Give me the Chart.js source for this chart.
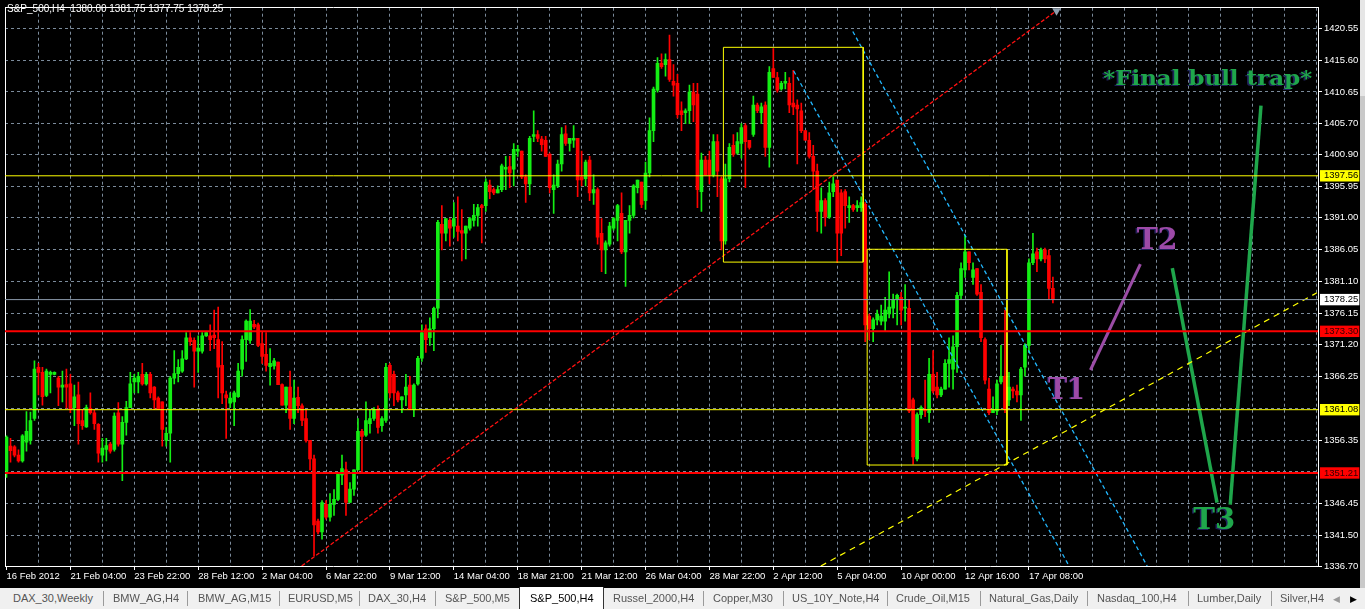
<!DOCTYPE html>
<html><head><meta charset="utf-8">
<script src="https://cdn.jsdelivr.net/npm/chart.js@4.4.1/dist/chart.umd.min.js"></script>
<style>
html,body{margin:0;padding:0;background:#000;width:1365px;height:609px;overflow:hidden;}
#wrap{position:absolute;left:0;top:0;width:1360px;height:588px;background:#000;}
#strip{position:absolute;left:1360px;top:0;width:5px;height:588px;background:#c9c9c9;}
#strip div{height:96px;background:#e6e6e6;}
#tabs{position:absolute;left:0;top:588px;width:1365px;height:21px;background:#f0f0f0;font:11px "Liberation Sans",Arial,sans-serif;color:#555;}
.tab{position:absolute;top:4px;white-space:nowrap;line-height:13px;}
.sep{position:absolute;top:3px;width:1px;height:15px;background:#9a9a9a;}
.act{position:absolute;left:519px;top:-1px;width:83px;height:22px;background:#fff;border-left:1px solid #333;border-right:1px solid #333;}
</style></head>
<body>
<div id="wrap"><canvas id="c" width="1360" height="588"></canvas></div>
<div id="strip"><div></div></div>
<div id="tabs">
<div class="act"></div>
<span class="tab" style="left:13px">DAX_30,Weekly</span><div class="sep" style="left:103px"></div>
<span class="tab" style="left:113px">BMW_AG,H4</span><div class="sep" style="left:187px"></div>
<span class="tab" style="left:198px">BMW_AG,M15</span><div class="sep" style="left:279px"></div>
<span class="tab" style="left:288px">EURUSD,M5</span><div class="sep" style="left:359px"></div>
<span class="tab" style="left:368px">DAX_30,H4</span><div class="sep" style="left:435px"></div>
<span class="tab" style="left:445px">S&amp;P_500,M5</span>
<span class="tab" style="left:530px;color:#000">S&amp;P_500,H4</span>
<span class="tab" style="left:613px">Russel_2000,H4</span><div class="sep" style="left:703px"></div>
<span class="tab" style="left:713px">Copper,M30</span><div class="sep" style="left:783px"></div>
<span class="tab" style="left:792px">US_10Y_Note,H4</span><div class="sep" style="left:887px"></div>
<span class="tab" style="left:896px">Crude_Oil,M15</span><div class="sep" style="left:980px"></div>
<span class="tab" style="left:989px">Natural_Gas,Daily</span><div class="sep" style="left:1087px"></div>
<span class="tab" style="left:1097px">Nasdaq_100,H4</span><div class="sep" style="left:1188px"></div>
<span class="tab" style="left:1197px">Lumber,Daily</span><div class="sep" style="left:1271px"></div>
<span class="tab" style="left:1280px">Silver,H4</span>
<span class="tab" style="left:1333px;color:#999;font-size:9px;top:5px">&#9664;</span>
<span class="tab" style="left:1350px;color:#000;font-size:9px;top:5px">&#9654;</span>
</div>
<script>
// ---- data (H4 candles) ----
const opens = [
1351.5,1355.4,1355.3,1354.0,1353.1,1356.0,1356.3,1359.7,1367.7,1366.9,
1363.3,1366.6,1366.6,1366.0,1364.6,1365.0,1365.1,1361.4,1363.4,1359.4,
1358.4,1361.3,1360.6,1358.8,1354.0,1354.9,1355.7,1354.9,1360.6,1355.7,
1359.1,1361.4,1365.4,1365.4,1366.6,1365.1,1366.6,1364.6,1362.9,1362.3,
1356.3,1357.4,1366.0,1366.7,1367.1,1369.0,1372.3,1371.9,1370.2,1370.2,
1372.6,1372.6,1372.7,1372.0,1368.0,1363.4,1362.1,1362.3,1363.1,1367.4,
1372.0,1371.9,1374.4,1374.3,1371.4,1369.7,1367.8,1367.9,1368.5,1365.0,
1361.8,1364.6,1359.7,1363.0,1361.7,1359.7,1356.3,1353.4,1343.7,1342.0,
1346.3,1344.3,1346.3,1347.1,1350.9,1351.7,1346.6,1348.7,1351.7,1357.7,
1357.1,1358.9,1359.7,1361.1,1358.6,1359.4,1368.0,1366.6,1363.7,1362.6,
1363.4,1364.9,1361.1,1365.1,1369.1,1373.7,1372.3,1373.7,1376.9,1390.0,
1388.6,1390.6,1389.7,1389.7,1389.0,1388.6,1389.4,1390.6,1391.4,1392.9,
1392.9,1396.1,1395.4,1394.9,1395.4,1398.6,1399.0,1398.6,1401.4,1401.4,
1397.4,1396.3,1403.7,1404.0,1403.3,1403.1,1400.9,1395.4,1396.0,1399.4,
1404.1,1402.6,1403.1,1403.4,1397.4,1397.1,1400.0,1394.9,1395.4,1388.6,
1386.0,1386.9,1389.4,1390.6,1391.7,1385.7,1390.6,1391.4,1395.7,1396.6,
1393.7,1398.0,1404.6,1410.9,1415.1,1414.9,1415.7,1412.3,1412.0,1407.7,
1407.4,1407.7,1410.6,1410.3,1395.1,1400.0,1400.0,1397.7,1402.9,1397.1,
1387.4,1397.1,1402.3,1401.1,1402.6,1405.4,1403.1,1404.0,1408.6,1407.4,
1408.6,1402.0,1414.3,1412.9,1411.1,1412.0,1412.0,1408.9,1408.6,1407.7,
1404.6,1403.1,1400.6,1398.3,1392.0,1393.7,1391.1,1395.1,1396.9,1394.9,
1395.1,1392.6,1392.9,1392.6,1392.6,1393.1,1375.7,1373.7,1375.1,1374.9,
1374.9,1376.0,1376.9,1378.3,1378.6,1376.9,1376.9,1362.6,1353.4,1360.3,
1361.1,1360.6,1366.6,1364.6,1363.4,1364.3,1368.3,1367.4,1370.9,1378.9,
1382.9,1385.7,1381.7,1383.1,1379.4,1372.0,1364.3,1360.6,1360.9,1365.4,
1366.3,1362.6,1364.3,1364.0,1363.4,1367.7,1371.1,1384.0,1385.7,1384.6,
1386.0,1385.1,1380.00];
const highs = [
1357.0,1356.6,1355.5,1354.8,1357.2,1360.8,1360.7,1368.7,1368.3,1367.7,
1367.4,1367.1,1367.0,1366.3,1367.1,1367.4,1366.6,1364.9,1365.4,1361.1,
1361.8,1363.7,1361.0,1358.9,1356.6,1356.6,1356.0,1360.6,1362.2,1360.0,
1362.4,1366.9,1366.6,1366.9,1368.3,1366.9,1366.9,1364.7,1363.1,1362.3,
1358.3,1366.3,1370.3,1368.9,1370.3,1373.1,1373.1,1372.3,1372.6,1373.1,
1373.1,1374.3,1376.6,1377.1,1371.7,1364.0,1363.7,1364.0,1368.3,1372.6,
1375.1,1376.7,1375.0,1374.6,1373.1,1373.1,1370.6,1369.1,1368.5,1365.1,
1364.6,1367.1,1365.7,1364.6,1362.0,1361.1,1356.3,1354.0,1344.0,1346.9,
1346.9,1348.0,1348.6,1351.3,1354.0,1352.9,1349.7,1351.7,1359.7,1358.0,
1362.3,1361.1,1361.4,1361.7,1360.0,1368.3,1368.3,1367.1,1364.0,1363.1,
1366.6,1366.3,1365.1,1369.4,1374.3,1374.3,1375.4,1377.1,1390.6,1392.9,
1390.9,1390.9,1393.4,1394.3,1392.3,1389.7,1391.1,1393.1,1393.1,1393.1,
1397.1,1396.9,1395.7,1396.0,1399.4,1400.6,1400.6,1402.6,1402.3,1401.4,
1397.7,1403.7,1407.7,1404.6,1403.7,1403.7,1401.1,1397.7,1400.0,1405.1,
1405.4,1403.4,1405.4,1403.4,1401.4,1400.0,1400.6,1397.7,1395.7,1390.9,
1387.4,1390.3,1391.1,1393.1,1394.9,1390.6,1392.9,1396.2,1396.9,1396.6,
1399.7,1406.6,1411.4,1416.0,1416.6,1416.6,1419.5,1414.9,1413.4,1409.1,
1408.0,1411.7,1412.0,1412.0,1401.1,1400.6,1401.4,1404.0,1404.0,1397.4,
1399.4,1402.6,1404.0,1404.3,1405.7,1405.7,1403.1,1410.0,1408.9,1408.9,
1409.1,1414.6,1417.4,1413.7,1412.3,1413.7,1412.9,1414.0,1409.4,1408.9,
1404.6,1404.3,1402.3,1399.4,1395.7,1394.0,1396.6,1397.4,1396.9,1395.4,
1395.4,1394.3,1393.1,1393.7,1394.3,1393.4,1376.0,1375.4,1376.6,1377.4,
1378.6,1382.6,1379.1,1379.1,1379.4,1380.6,1378.3,1362.9,1360.6,1361.7,
1365.7,1369.1,1370.3,1366.9,1364.6,1368.9,1372.3,1372.6,1379.4,1384.0,
1388.3,1385.7,1384.0,1383.1,1380.6,1372.3,1366.0,1363.1,1365.7,1371.1,
1376.6,1366.9,1364.6,1364.9,1367.7,1371.4,1384.6,1388.6,1386.3,1386.3,
1386.3,1386.0,1381.75];
const lows = [
1350.5,1352.9,1353.7,1352.9,1352.9,1354.6,1355.7,1359.4,1363.4,1361.8,
1363.1,1363.7,1366.5,1361.7,1362.3,1361.3,1360.6,1358.6,1355.7,1358.0,
1358.3,1360.4,1358.0,1352.9,1352.9,1353.1,1354.3,1354.6,1355.4,1350.0,
1357.1,1361.4,1363.7,1363.7,1364.9,1364.9,1362.9,1361.1,1361.1,1355.4,
1355.4,1352.9,1365.1,1365.4,1366.9,1368.9,1371.1,1364.6,1366.9,1369.9,
1372.5,1370.3,1370.6,1362.9,1362.0,1356.6,1361.4,1358.6,1363.0,1366.3,
1368.6,1371.4,1373.7,1370.9,1368.3,1367.1,1364.9,1367.4,1365.0,1361.8,
1360.6,1358.0,1358.9,1360.6,1358.6,1356.0,1351.7,1338.3,1341.7,1340.9,
1344.0,1343.7,1344.6,1346.9,1349.4,1344.6,1346.6,1347.7,1351.7,1351.1,
1356.9,1357.4,1359.4,1357.4,1357.7,1359.1,1362.9,1361.7,1362.3,1360.6,
1361.7,1361.1,1360.0,1364.9,1368.6,1370.0,1371.1,1370.3,1375.4,1386.0,
1387.4,1386.6,1388.0,1387.4,1384.3,1384.6,1389.1,1389.7,1389.7,1387.1,
1392.0,1394.0,1394.6,1394.9,1395.1,1395.4,1395.7,1396.0,1400.6,1397.1,
1393.4,1394.6,1402.9,1402.9,1401.4,1400.6,1394.9,1391.7,1395.7,1398.3,
1402.3,1401.4,1402.0,1394.3,1396.0,1396.0,1393.7,1393.1,1386.9,1382.6,
1382.3,1386.6,1389.1,1387.4,1385.4,1380.3,1388.6,1391.0,1394.9,1392.6,
1392.3,1397.4,1402.9,1410.6,1414.3,1413.1,1412.3,1410.0,1406.6,1404.6,
1405.7,1405.7,1406.0,1392.6,1392.0,1397.7,1396.3,1397.4,1394.3,1386.0,
1386.9,1396.6,1400.6,1400.9,1400.3,1395.7,1401.7,1403.7,1407.4,1405.7,
1400.6,1398.9,1412.9,1410.6,1410.9,1411.1,1407.4,1407.1,1399.4,1404.3,
1403.1,1400.3,1395.4,1388.9,1388.6,1389.7,1390.9,1394.3,1384.0,1385.1,
1389.4,1390.3,1392.0,1392.0,1392.0,1371.7,1372.0,1371.7,1374.3,1374.3,
1373.4,1375.4,1375.4,1374.3,1374.3,1374.9,1360.6,1352.6,1353.1,1359.7,
1360.0,1359.1,1363.7,1362.9,1363.1,1364.3,1364.6,1364.3,1366.9,1378.3,
1381.7,1382.9,1380.6,1378.9,1371.7,1365.1,1360.3,1360.6,1360.3,1365.1,
1360.6,1361.7,1362.9,1362.3,1359.4,1366.3,1370.0,1383.7,1382.6,1384.3,
1384.0,1378.3,1377.75];
const closes = [
1356.8,1354.7,1354.0,1353.1,1357.0,1357.7,1359.4,1367.4,1366.9,1363.1,
1367.1,1366.9,1366.9,1364.6,1364.9,1364.6,1361.1,1363.1,1358.9,1358.6,
1361.4,1360.6,1358.9,1354.3,1355.1,1355.5,1354.6,1360.1,1355.7,1359.1,
1361.4,1365.1,1366.0,1366.3,1365.1,1366.6,1363.7,1362.6,1361.1,1358.0,
1357.4,1366.0,1366.7,1367.7,1369.0,1372.3,1371.7,1370.2,1370.7,1372.6,
1373.1,1372.0,1372.3,1367.7,1363.7,1362.9,1362.9,1363.7,1367.1,1372.0,
1374.9,1374.9,1374.0,1371.1,1369.4,1368.0,1368.3,1368.7,1365.0,1361.8,
1364.6,1359.7,1362.9,1361.7,1359.4,1356.3,1353.4,1343.1,1342.0,1346.6,
1344.3,1346.3,1347.1,1351.1,1351.9,1346.6,1348.7,1351.7,1357.7,1356.9,
1359.4,1359.7,1361.1,1358.3,1359.7,1367.7,1363.7,1363.7,1362.6,1363.1,
1364.6,1361.1,1364.9,1369.1,1373.1,1372.0,1373.7,1376.9,1390.3,1388.6,
1390.9,1389.4,1390.9,1388.9,1388.6,1389.7,1390.9,1391.4,1392.6,1392.6,
1396.6,1395.1,1394.9,1395.4,1399.1,1398.9,1398.0,1401.7,1401.7,1397.4,
1396.3,1403.4,1404.0,1403.4,1402.4,1400.6,1395.7,1396.1,1399.4,1404.0,
1402.6,1403.4,1403.4,1396.9,1396.9,1399.7,1394.9,1395.4,1388.0,1386.0,
1387.1,1389.7,1390.9,1392.9,1385.7,1390.6,1391.4,1396.0,1396.9,1393.1,
1398.0,1404.6,1411.1,1415.1,1414.6,1415.7,1412.6,1411.7,1407.1,1407.1,
1407.7,1410.6,1408.6,1395.4,1400.0,1397.7,1397.7,1402.9,1398.3,1387.4,
1397.1,1402.0,1400.9,1402.9,1405.1,1402.9,1402.0,1408.6,1407.7,1408.3,
1402.0,1413.7,1412.9,1410.9,1412.0,1412.3,1408.6,1408.3,1408.0,1404.6,
1403.1,1400.6,1398.3,1392.0,1393.7,1391.1,1394.9,1396.3,1388.6,1388.6,
1392.9,1392.9,1392.3,1392.9,1393.4,1374.3,1373.7,1375.1,1376.0,1375.7,
1376.6,1377.1,1378.3,1378.9,1376.6,1377.1,1360.9,1353.7,1360.3,1361.4,
1360.9,1366.6,1364.0,1363.4,1364.3,1368.3,1368.9,1370.9,1378.9,1383.1,
1385.7,1384.0,1382.9,1379.1,1372.3,1365.7,1360.6,1361.1,1365.1,1366.3,
1361.1,1364.6,1364.0,1363.4,1367.4,1371.1,1384.0,1385.4,1384.6,1386.0,
1384.6,1380.0,1378.25];

const dateLabels = ['16 Feb 2012','21 Feb 04:00','23 Feb 22:00','28 Feb 12:00','2 Mar 04:00','6 Mar 22:00',
  '9 Mar 12:00','14 Mar 04:00','18 Mar 21:00','21 Mar 12:00','26 Mar 04:00','28 Mar 22:00','2 Apr 12:00',
  '5 Apr 04:00','10 Apr 00:00','12 Apr 16:00','17 Apr 08:00'];
const priceTicks = [1420.55,1415.60,1410.65,1405.70,1400.90,1395.95,1391.00,1386.05,1381.10,1376.15,
  1371.20,1366.25,1361.30,1356.35,1351.40,1346.45,1341.50,1336.70];
const hiddenTicks = [1361.30,1351.40];
const levelValues = [1397.56,1378.25,1373.30,1361.08,1351.21];
const titleText = 'S&P_500,H4  1380.00 1381.75 1377.75 1378.25';

// drawn objects, in (bar index, price)
const redTrend = [[73.9,1336.7],[263.9,1423.78]];
const yellowTrend = [[203.9,1336.7],[328.1,1379.31]];
const cyanTrend1 = [[197.1,1413.9],[266.05,1336.7]];
const cyanTrend2 = [[211.9,1420.07],[285.6,1336.7]];
const purplePath = [[271.4,1367.27],[283.9,1383.79]];
const greenPath1 = [[291.9,1383.17],[303.1,1346.58]];
const greenPath2 = [[306.4,1346.27],[314.1,1408.49]];
const box1 = [179.5,214.5,1417.6,1384.1];
const box2 = [215.5,250.5,1386.1,1352.45];
const arrowMark = [262.9,1423.3];
const notes = [
  {text:'*Final bull trap*', x:300.75, y:1412.5, color:'#1fa64b', size:20, width:209},
  {text:'T1', x:265.4, y:1364.0, color:'#9d4aa8', size:30, width:37},
  {text:'T2', x:288.1, y:1387.3, color:'#9d4aa8', size:30, width:41},
  {text:'T3', x:302.4, y:1343.65, color:'#1fa64b', size:30, width:42}
];

// ---- styles ----
const BULL = '#14ee14', BEAR = '#ff0000', GRID = '#7b8b9b';
const levelStyle = [
  {c:'#ffff00', w:1, bg:'#ffff00', fg:'#000'},
  {c:'#8a99aa', w:1, bg:'#ffffff', fg:'#000'},
  {c:'#ff0000', w:2, bg:'#ff0000', fg:'#300000'},
  {c:'#ffff00', w:1, bg:'#ffff00', fg:'#000'},
  {c:'#ff0000', w:2, bg:'#ff0000', fg:'#300000'}
];
const NT = priceTicks.length;
const FONT = {family:'"Liberation Sans", Arial, sans-serif', size:9.5};

const idx = opens.map((_, i) => i);
const colorOf = i => closes[i] >= opens[i] ? BULL : BEAR;

function seg(points, color, width, dash, extra) {
  return Object.assign({type:'line', data: points.map(p => ({x:p[0], y:p[1]})), borderColor:color,
    borderWidth:width, borderDash:dash || [], pointRadius:0, fill:false, tension:0, order:1}, extra || {});
}
function rect(b, color) {
  return seg([[b[0],b[2]],[b[1],b[2]],[b[1],b[3]],[b[0],b[3]],[b[0],b[2]]], color, 1);
}

const datasets = [
  {type:'bar', data: idx.map(i => ({x:i, y:[Math.min(lows[i],opens[i],closes[i]), Math.max(highs[i],opens[i],closes[i])]})),
   backgroundColor: idx.map(colorOf), barThickness:1, grouped:false, order:6, borderWidth:0},
  {type:'bar', data: idx.map(i => ({x:i, y:[opens[i], closes[i]]})),
   backgroundColor: idx.map(colorOf), barThickness:3, grouped:false, order:5, borderWidth:0, minBarLength:1},
  ...levelValues.map((v, k) => seg([[-0.375, v],[328.375, v]], levelStyle[k].c, levelStyle[k].w)),
  rect(box1, '#ffff00'), rect(box2, '#ffff00'),
  seg(redTrend, '#ff1010', 1.3, [4,2]),
  seg(yellowTrend, '#ffff00', 1.2, [6,5]),
  seg(cyanTrend1, '#22b8ff', 1.3, [4,3]),
  seg(cyanTrend2, '#22b8ff', 1.3, [4,3]),
  seg(purplePath, '#9b4ca6', 3),
  seg(greenPath1, '#1fa64b', 3.5),
  seg(greenPath2, '#1fa64b', 3.5),
  {type:'scatter', data:[{x:arrowMark[0], y:arrowMark[1]}], pointStyle:'triangle', rotation:180,
   pointRadius:5, backgroundColor:'#8f9fae', borderWidth:0, clip:false, order:0}
];

const textPlugin = {
  id:'texts',
  afterDatasetsDraw(chart) {
    const {ctx, scales:{x, y}} = chart;
    notes.forEach(n => {
      ctx.save();
      ctx.font = 'bold ' + n.size + 'px "DejaVu Serif", serif';
      ctx.textAlign = 'center'; ctx.textBaseline = 'middle';
      const w = ctx.measureText(n.text).width;
      ctx.translate(x.getPixelForValue(n.x), y.getPixelForValue(n.y));
      ctx.scale(n.width / w, 1);
      ctx.fillStyle = '#20205a';
      ctx.fillText(n.text, -1.5, 0.5);
      ctx.fillStyle = n.color;
      ctx.fillText(n.text, 0, 0);
      ctx.restore();
    });
  },
  afterDraw(chart) {
    const ctx = chart.ctx;
    ctx.save();
    ctx.font = '10px "Liberation Sans", Arial, sans-serif';
    ctx.fillStyle = '#ffffff'; ctx.textBaseline = 'middle'; ctx.textAlign = 'left';
    ctx.fillText(titleText, 7, 9);
    ctx.restore();
  }
};

new Chart(document.getElementById('c'), {
  type:'bar',
  data:{datasets},
  plugins:[textPlugin],
  options:{
    responsive:false, animation:false, events:[],
    layout:{padding:{left:3, top:2, right:0, bottom:0}},
    plugins:{legend:{display:false}, tooltip:{enabled:false}, title:{display:false}},
    scales:{
      x:{type:'linear', position:'bottom', min:-0.375, max:328.375, offset:false,
        afterBuildTicks: s => { const t = []; for (let v = 0; v <= 328; v += 8) t.push({value:v}); s.ticks = t; },
        afterFit: s => { s.height = 22; },
        ticks:{autoSkip:false, maxRotation:0, minRotation:0, align:'start', padding:1, color:'#ffffff', font:FONT,
          callback: v => (v % 16 === 0 && dateLabels[v/16]) ? dateLabels[v/16] : ''},
        grid:{offset:false, lineWidth:1, tickLength:4,
          color: c => (c.tick && c.tick.value > 0) ? GRID : 'rgba(0,0,0,0)',
          tickColor: c => (c.tick && c.tick.value % 16 === 0 && c.tick.value <= 256) ? '#ffffff' : 'rgba(0,0,0,0)'},
        border:{display:true, color:'#ffffff', width:1, dash:[3,3]}
      },
      y:{type:'linear', position:'right', min:1336.70, max:1423.78,
        afterBuildTicks: s => { s.ticks = priceTicks.concat(levelValues).map(v => ({value:v})); },
        afterFit: s => { s.width = 42; },
        ticks:{autoSkip:false, padding:2, font:FONT, crossAlign:'near',
          color: c => c.index >= NT ? levelStyle[c.index - NT].fg : '#ffffff',
          showLabelBackdrop: c => c.index >= NT,
          backdropColor: c => c.index >= NT ? levelStyle[c.index - NT].bg : 'rgba(0,0,0,0)',
          backdropPadding:{left:4, right:1, top:0, bottom:0},
          callback: (v, i) => i >= NT ? levelValues[i - NT].toFixed(2)
            : (hiddenTicks.includes(priceTicks[i]) ? '' : priceTicks[i].toFixed(2))},
        grid:{lineWidth:1, tickLength:4,
          color: c => (c.index < NT - 1) ? GRID : 'rgba(0,0,0,0)',
          tickColor: c => (c.index < NT && !hiddenTicks.includes(priceTicks[c.index])) ? '#ffffff' : 'rgba(0,0,0,0)'},
        border:{display:true, color:'#ffffff', width:1, dash:[3,3]}
      },
      xTop:{type:'linear', position:'top', min:0, max:1, display:true,
        afterFit: s => { s.height = 0; },
        ticks:{display:false}, grid:{display:false}, border:{display:true, color:'#ffffff', width:1}},
      yLeft:{type:'linear', position:'left', min:0, max:1, display:true,
        afterFit: s => { s.width = 0; },
        ticks:{display:false}, grid:{display:false}, border:{display:true, color:'#ffffff', width:1}}
    }
  }
});
</script>
</body></html>
